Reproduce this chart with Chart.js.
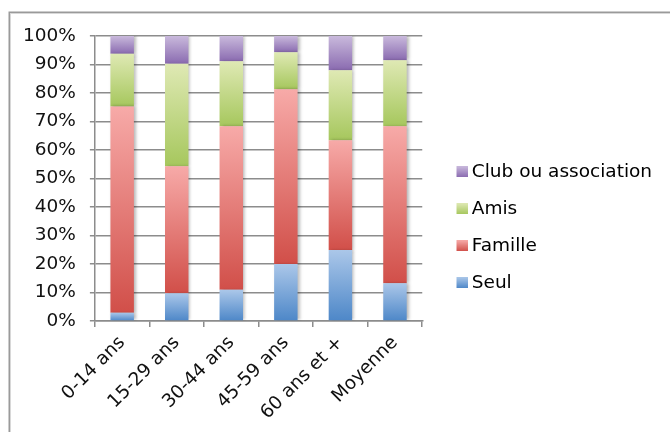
<!DOCTYPE html>
<html>
<head>
<meta charset="utf-8">
<script src="https://cdn.jsdelivr.net/npm/chart.js@4/dist/chart.umd.min.js"></script>
<style>
html,body{margin:0;padding:0;background:#fff;}
#c{display:block;}
</style>
</head>
<body>
<canvas id="c" width="670" height="432"></canvas>
<script>
// ---- data (percent of each age group) ----
const categories = ["0-14 ans", "15-29 ans", "30-44 ans", "45-59 ans", "60 ans et +", "Moyenne"];
const seriesNames = ["Seul", "Famille", "Amis", "Club ou association"];
const seul    = [2.9, 9.7, 10.9, 20.0, 24.9, 13.2];
const famille = [72.4, 44.6, 57.4, 61.3, 38.5, 55.1];
const amis    = [18.5, 36.0, 22.8, 13.0, 24.6, 23.2];
const club    = [6.2, 9.7, 8.9, 5.7, 12.0, 8.5];
const yTicks  = [0, 10, 20, 30, 40, 50, 60, 70, 80, 90, 100];

// ---- styles ----
const FONT = "'DejaVu Sans', Verdana, sans-serif";
const FS = 18.5;
const palette = [
  ["#abc7e9", "#4d87c8"],  // Seul
  ["#f7aaa8", "#d14f49"],  // Famille
  ["#dfe9b4", "#a6c75d"],  // Amis
  ["#c9b9dc", "#8a6bb0"]   // Club
];

function segGradient(c) {
  const chart = c.chart;
  const [top, bot] = palette[c.datasetIndex];
  const ys = chart.scales && chart.scales.y;
  if (!ys || c.type !== 'data') return bot;
  const i = c.dataIndex, d = c.datasetIndex;
  let base = 0;
  for (let k = 0; k < d; k++) base += chart.data.datasets[k].data[i];
  const v = chart.data.datasets[d].data[i];
  const y0 = ys.getPixelForValue(base + v), y1 = ys.getPixelForValue(base);
  if (!isFinite(y0) || !isFinite(y1) || y0 === y1) return bot;
  const g = chart.ctx.createLinearGradient(0, y0, 0, y1);
  g.addColorStop(0, top);
  g.addColorStop(1, bot);
  return g;
}

function legendSwatch(idx) {
  const cv = document.createElement('canvas');
  cv.width = 16; cv.height = 11;
  const x = cv.getContext('2d');
  const g = x.createLinearGradient(0, 0, 0, 11);
  g.addColorStop(0, palette[idx][0]);
  g.addColorStop(1, palette[idx][1]);
  x.fillStyle = g;
  x.fillRect(5, 0, 11, 11);
  return cv;
}

const seriesValues = [seul, famille, amis, club];
const datasets = seriesNames.map((name, k) => ({
  label: name,
  data: seriesValues[k],
  backgroundColor: segGradient,
  borderWidth: 0,
  barPercentage: 0.43,
  categoryPercentage: 1.0
}));

const framePlugin = {
  id: 'frame',
  beforeDraw(chart) {
    const ctx = chart.ctx;
    ctx.save();
    ctx.fillStyle = '#fff';
    ctx.fillRect(0, 0, chart.width, chart.height);
    ctx.strokeStyle = '#d8d8d8';
    ctx.lineWidth = 1;
    ctx.strokeRect(10.5, 13.5, 700, 500);
    ctx.strokeStyle = '#9a9a9a';
    ctx.lineWidth = 1.5;
    ctx.strokeRect(9.25, 12.25, 700, 500);
    ctx.restore();
    // place legend block
    const lg = chart.legend;
    if (lg) {
      lg.left = 438; lg.right = chart.width;
      lg.top = 144; lg.bottom = 144 + 280;
    }
  },
  beforeDatasetsDraw(chart) {
    const ctx = chart.ctx;
    ctx.save();
    ctx.shadowColor = 'rgba(0,0,0,0.28)';
    ctx.shadowOffsetX = 2;
    ctx.shadowOffsetY = 0;
    ctx.shadowBlur = 3;
  },
  afterDatasetsDraw(chart) {
    chart.ctx.restore();
  }
};

new Chart(document.getElementById('c'), {
  type: 'bar',
  data: { labels: categories, datasets: datasets },
  options: {
    responsive: false,
    animation: false,
    devicePixelRatio: 1,
    layout: { padding: { left: 9, top: 36, right: 110, bottom: 3 } },
    plugins: {
      tooltip: { enabled: false },
      legend: {
        position: 'right',
        align: 'start',
        reverse: true,
        labels: {
          font: { family: FONT, size: FS },
          color: '#111',
          usePointStyle: true,
          boxWidth: 6,
          boxHeight: 18.5,
          padding: 18.5,
          generateLabels(chart) {
            return chart.data.datasets.map((ds, i) => ({
              text: ds.label,
              fillStyle: palette[i][1],
              strokeStyle: palette[i][1],
              lineWidth: 0,
              pointStyle: legendSwatch(i),
              hidden: false,
              datasetIndex: i
            }));
          }
        }
      }
    },
    scales: {
      x: {
        stacked: true,
        offset: true,
        afterFit(scale) { scale.paddingLeft = 0; scale.paddingRight = 0; },
        grid: { display: true, drawOnChartArea: false, drawTicks: true, tickLength: 6, color: '#8c8c8c', lineWidth: 1.5 },
        border: { display: true, color: '#8c8c8c', width: 1.5 },
        ticks: { font: { family: FONT, size: FS }, color: '#111', maxRotation: 45, minRotation: 45, padding: 5 }
      },
      y: {
        stacked: true,
        min: 0,
        max: 100,
        afterBuildTicks(scale) { scale.ticks = yTicks.map(v => ({ value: v })); },
        grid: { color: '#8c8c8c', lineWidth: 1.5, tickLength: 5, drawTicks: true },
        border: { display: true, color: '#8c8c8c', width: 1.5 },
        ticks: { font: { family: FONT, size: FS }, color: '#111', padding: 14, callback: v => v + '%' }
      }
    }
  },
  plugins: [framePlugin]
});
</script>
</body>
</html>
